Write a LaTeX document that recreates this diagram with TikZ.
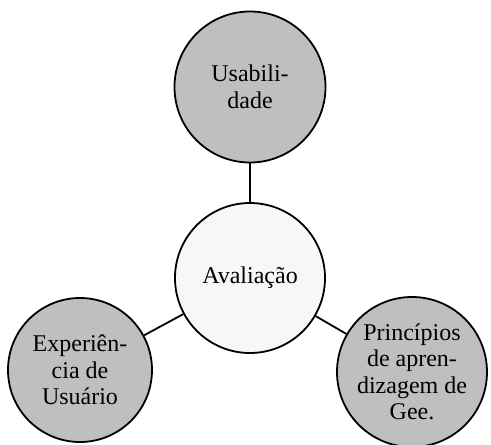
\documentclass[tikz,border=0pt]{standalone}
\usepackage{fontspec}
\setmainfont{Liberation Serif}
\begin{document}
\begin{tikzpicture}[x=1pt,y=-1pt,
  bubble/.style={circle, draw=black, line width=1.8pt, align=center,
    font=\fontsize{24}{26.5}\selectfont, inner sep=0pt},
  outer/.style={bubble, fill=gray!50!white},
  link/.style={line width=1.8pt}]
\useasboundingbox (0,0) rectangle (491,445);
\node[bubble, fill=black!3, minimum size=150pt] (c) at (250,278) {Avaliação};
\node[outer, minimum size=151pt] (u) at (250,87) {Usabili-\\dade};
\node[outer, minimum size=144pt] (e) at (80,370) {Experiên-\\cia de\\Usuário};
\node[outer, minimum size=150pt] (p) at (412,372) {Princípios\\de apren-\\dizagem de\\Gee.};
\draw[link] (u) -- (c);
\draw[link] (c) -- (e);
\draw[link] (c) -- (p);
\end{tikzpicture}
\end{document}
